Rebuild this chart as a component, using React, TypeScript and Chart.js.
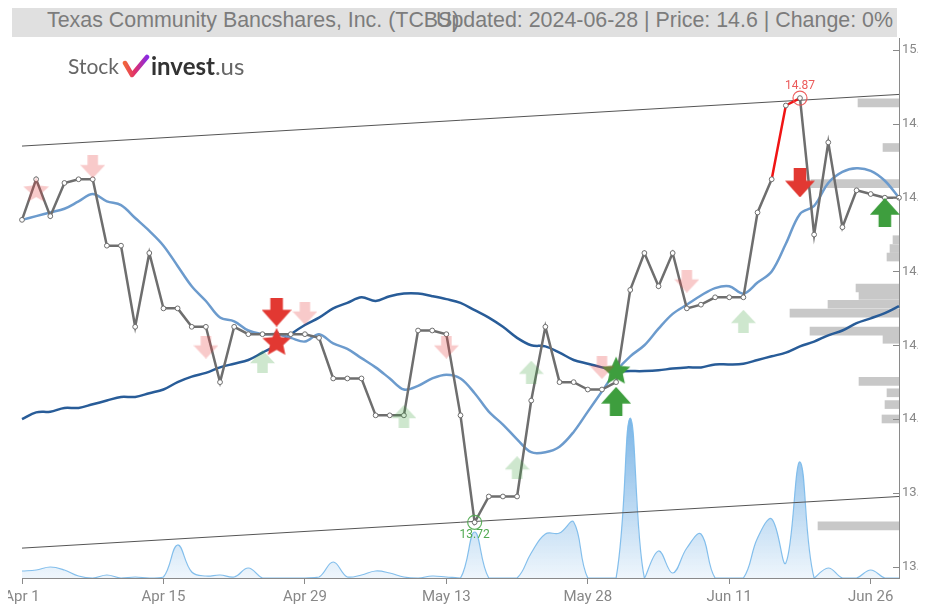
import React, { useEffect, useRef } from 'react';
import { Chart, registerables } from 'chart.js';

Chart.register(...registerables);

// ---------- data ----------
const dates = [
  'Apr 1', 'Apr 2', 'Apr 3', 'Apr 4', 'Apr 5', 'Apr 8', 'Apr 9', 'Apr 10', 'Apr 11', 'Apr 12',
  'Apr 15', 'Apr 16', 'Apr 17', 'Apr 18', 'Apr 19', 'Apr 22', 'Apr 23', 'Apr 24', 'Apr 25', 'Apr 26',
  'Apr 29', 'Apr 30', 'May 1', 'May 2', 'May 3', 'May 6', 'May 7', 'May 8', 'May 9', 'May 10',
  'May 13', 'May 14', 'May 15', 'May 16', 'May 17', 'May 20', 'May 21', 'May 22', 'May 23', 'May 24',
  'May 28', 'May 29', 'May 30', 'May 31', 'Jun 3', 'Jun 4', 'Jun 5', 'Jun 6', 'Jun 7', 'Jun 10',
  'Jun 11', 'Jun 12', 'Jun 13', 'Jun 14', 'Jun 17', 'Jun 18', 'Jun 20', 'Jun 21', 'Jun 24', 'Jun 25',
  'Jun 26', 'Jun 27', 'Jun 28',
];
const xTickLabels = ['Apr 1', 'Apr 15', 'Apr 29', 'May 13', 'May 28', 'Jun 11', 'Jun 26'];
const yTickValues = [13.6, 13.8, 14.0, 14.2, 14.4, 14.6, 14.8, 15.0];

const closePrice = [
  14.54, 14.65, 14.55, 14.64, 14.65, 14.65, 14.47, 14.47, 14.25, 14.45,
  14.30, 14.30, 14.25, 14.25, 14.10, 14.25, 14.23, 14.23, 14.23, 14.23,
  14.23, 14.22, 14.11, 14.11, 14.11, 14.01, 14.01, 14.01, 14.24, 14.24,
  14.23, 14.01, 13.72, 13.79, 13.79, 13.79, 14.05, 14.25, 14.10, 14.10,
  14.08, 14.08, 14.10, 14.35, 14.45, 14.36, 14.45, 14.30, 14.31, 14.33,
  14.33, 14.33, 14.56, 14.65, 14.85, 14.87, 14.50, 14.75, 14.52, 14.62,
  14.61, 14.60, 14.60,
];
const highlightSegments = [53, 54];

const maFast = [
  14.54, 14.55, 14.56, 14.57, 14.59, 14.61, 14.59, 14.58, 14.545, 14.51,
  14.47, 14.415, 14.36, 14.32, 14.275, 14.265, 14.24, 14.23, 14.23, 14.22,
  14.21, 14.23, 14.205, 14.19, 14.165, 14.14, 14.11, 14.08, 14.09, 14.11,
  14.12, 14.11, 14.07, 14.02, 13.985, 13.945, 13.91, 13.91, 13.925, 13.965,
  14.02, 14.075, 14.13, 14.17, 14.20, 14.245, 14.285, 14.31, 14.335, 14.355,
  14.36, 14.34, 14.37, 14.40, 14.475, 14.556, 14.578, 14.64, 14.67, 14.68,
  14.673, 14.646, 14.60,
];

const maSlow = [
  14.00, 14.018, 14.02, 14.03, 14.03, 14.04, 14.05, 14.06, 14.06, 14.07,
  14.08, 14.10, 14.115, 14.125, 14.14, 14.15, 14.16, 14.18, 14.20, 14.23,
  14.255, 14.275, 14.30, 14.315, 14.33, 14.32, 14.333, 14.34, 14.34, 14.333,
  14.325, 14.315, 14.295, 14.275, 14.25, 14.22, 14.20, 14.197, 14.18, 14.16,
  14.15, 14.14, 14.13, 14.13, 14.13, 14.132, 14.137, 14.14, 14.14, 14.148,
  14.148, 14.15, 14.16, 14.17, 14.18, 14.197, 14.21, 14.227, 14.24, 14.26,
  14.273, 14.287, 14.306,
];

const volume = [
  700, 800, 1100, 800, 200, 0, 300, 0, 100, 0,
  100, 3300, 600, 200, 300, 100, 1000, 0, 0, 0,
  0, 100, 1600, 100, 300, 700, 500, 100, 0, 200,
  100, 0, 4600, 0, 0, 0, 2500, 4400, 4500, 5600,
  0, 0, 0, 16000, 0, 2700, 500, 3000, 4400, 0,
  0, 0, 4000, 5900, 1500, 11600, 0, 1000, 0, 0,
  800, 0, 0,
];

const trendUpper = [14.74, 14.88];
const trendLower = [13.65, 13.79];

const profilePrice = [
  14.868, 14.747, 14.649, 14.497, 14.473, 14.450, 14.366, 14.346, 14.322, 14.298,
  14.249, 14.227, 14.113, 14.082, 14.050, 14.011, 13.721,
];
const profileVolume = [
  4100, 1600, 8800, 600, 900, 1200, 4300, 4000, 7100, 10900,
  8900, 1600, 4000, 1200, 1400, 1700, 8100,
];

const sellIdx = [18, 55];
const sellVal = [14.29, 14.64];
const buyIdx = [42, 61];
const buyVal = [14.048, 14.56];
const sellWeakIdx = [5, 13, 20, 30, 41, 47];
const sellWeakVal = [14.684, 14.195, 14.287, 14.195, 14.14, 14.374];
const buyWeakIdx = [17, 27, 35, 36, 51];
const buyWeakVal = [14.156, 14.007, 13.868, 14.127, 14.265];
const starSellIdx = [18];
const starSellVal = [14.21];
const starSellWeakIdx = [1];
const starSellWeakVal = [14.622];
const starBuyIdx = [42];
const starBuyVal = [14.132];
const extremeIdx = [55, 32];
const extremeVal = [14.87, 13.72];

// ---------- styles ----------
const RED = 'rgb(226,56,50)';
const RED_WEAK = 'rgba(230,60,60,0.27)';
const GREEN = 'rgb(62,158,62)';
const GREEN_WEAK = 'rgba(60,160,60,0.25)';

function makeArrow(w: number, h: number, color: string, up: boolean) {
  const c = document.createElement('canvas');
  c.width = w;
  c.height = h;
  const g = c.getContext('2d')!;
  g.fillStyle = color;
  const sw = w * 0.42;
  const sh = h * 0.42;
  const pts: [number, number][] = [
    [(w - sw) / 2, 0],
    [(w + sw) / 2, 0],
    [(w + sw) / 2, sh],
    [w, sh],
    [w / 2, h],
    [0, sh],
    [(w - sw) / 2, sh],
  ];
  g.beginPath();
  pts.forEach(([x, y], i) => {
    const yy = up ? h - y : y;
    if (i === 0) g.moveTo(x, yy);
    else g.lineTo(x, yy);
  });
  g.closePath();
  g.fill();
  return c;
}

function makeStar(size: number, color: string) {
  const c = document.createElement('canvas');
  c.width = size;
  c.height = size;
  const g = c.getContext('2d')!;
  g.fillStyle = color;
  const cx = size / 2;
  const cy = size / 2 + size * 0.04;
  const ro = size / 2;
  const ri = ro * 0.47;
  g.beginPath();
  for (let i = 0; i < 10; i++) {
    const r = i % 2 === 0 ? ro : ri;
    const a = -Math.PI / 2 + (i * Math.PI) / 5;
    const x = cx + r * Math.cos(a);
    const y = cy + r * Math.sin(a);
    if (i === 0) g.moveTo(x, y);
    else g.lineTo(x, y);
  }
  g.closePath();
  g.fill();
  return c;
}

const pts = (idx: number[], val: number[]) => idx.map((i, k) => ({ x: dates[i], y: val[k] }));

const overlayPlugin = {
  id: 'overlay',
  afterDatasetsDraw(chart: any) {
    const { ctx, chartArea, scales } = chart;
    const y = scales.y;
    const x = scales.x;
    ctx.save();
    ctx.strokeStyle = '#8a8a8a';
    ctx.lineWidth = 1;
    yTickValues.forEach((v) => {
      const py = Math.round(y.getPixelForValue(v)) + 0.5;
      ctx.beginPath();
      ctx.moveTo(chartArea.right - 6, py);
      ctx.lineTo(chartArea.right, py);
      ctx.stroke();
    });
    ctx.font = '12px Roboto';
    ctx.textAlign = 'center';
    ctx.textBaseline = 'middle';
    extremeIdx.forEach((i, k) => {
      const px = x.getPixelForValue(i);
      const py = y.getPixelForValue(extremeVal[k]);
      const isHigh = k === 0;
      ctx.fillStyle = isHigh ? 'rgb(235,90,90)' : 'rgb(80,170,80)';
      ctx.fillText(extremeVal[k].toFixed(2), px, isHigh ? py - 12 : py + 13);
    });
    ctx.restore();
  },
};

export default function App() {
  const canvasRef = useRef<HTMLCanvasElement | null>(null);

  useEffect(() => {
    document.body.style.marginBottom = '0px';
    const canvas = canvasRef.current!;
    const sellImg = makeArrow(30, 29, RED, false);
    const buyImg = makeArrow(30, 29, GREEN, true);
    const sellWeakImg = makeArrow(25, 23, RED_WEAK, false);
    const buyWeakImg = makeArrow(25, 23, GREEN_WEAK, true);
    const starSellImg = makeStar(30, RED);
    const starBuyImg = makeStar(30, GREEN);
    const starSellWeakImg = makeStar(27, RED_WEAK);

    const markerDs = (data: any[], img: HTMLCanvasElement) => ({
      type: 'line' as const,
      data,
      showLine: false,
      pointStyle: img,
      pointRadius: 10,
      xAxisID: 'x',
      yAxisID: 'y',
      order: 0,
    });

    const chart = new Chart(canvas, {
      type: 'line',
      data: {
        labels: dates,
        datasets: [
          markerDs(pts(starSellWeakIdx, starSellWeakVal), starSellWeakImg),
          markerDs(pts(sellWeakIdx, sellWeakVal), sellWeakImg),
          markerDs(pts(buyWeakIdx, buyWeakVal), buyWeakImg),
          markerDs(pts(starSellIdx, starSellVal), starSellImg),
          markerDs(pts(starBuyIdx, starBuyVal), starBuyImg),
          markerDs(pts(sellIdx, sellVal), sellImg),
          markerDs(pts(buyIdx, buyVal), buyImg),
          {
            type: 'line',
            data: [
              { x: dates[extremeIdx[0]], y: extremeVal[0] },
              { x: dates[extremeIdx[1]], y: extremeVal[1] },
            ],
            showLine: false,
            pointStyle: 'circle',
            pointRadius: 7,
            pointBorderWidth: 1.2,
            pointBackgroundColor: 'rgba(0,0,0,0)',
            pointBorderColor: ['rgba(235,80,80,0.9)', 'rgba(80,170,80,0.9)'],
            xAxisID: 'x',
            yAxisID: 'y',
            order: 0,
          },
          {
            type: 'line',
            data: closePrice,
            borderColor: '#6e6e6e',
            borderWidth: 2.5,
            pointRadius: 2.4,
            pointBorderWidth: 1,
            pointBackgroundColor: '#ffffff',
            pointBorderColor: '#6e6e6e',
            tension: 0,
            segment: {
              borderColor: (ctx: any) =>
                highlightSegments.includes(ctx.p0DataIndex) ? 'rgb(240,20,20)' : undefined,
            },
            xAxisID: 'x',
            yAxisID: 'y',
            order: 1,
          },
          {
            type: 'line',
            data: maFast,
            borderColor: 'rgb(108,155,205)',
            borderWidth: 2.5,
            pointRadius: 0,
            tension: 0.35,
            xAxisID: 'x',
            yAxisID: 'y',
            order: 2,
          },
          {
            type: 'line',
            data: maSlow,
            borderColor: 'rgb(40,92,152)',
            borderWidth: 2.5,
            pointRadius: 0,
            tension: 0.35,
            xAxisID: 'x',
            yAxisID: 'y',
            order: 2,
          },
          {
            type: 'line',
            data: [
              { x: dates[0], y: trendUpper[0] },
              { x: dates[dates.length - 1], y: trendUpper[1] },
            ],
            borderColor: '#555555',
            borderWidth: 1,
            pointRadius: 0,
            xAxisID: 'x',
            yAxisID: 'y',
            order: 3,
          },
          {
            type: 'line',
            data: [
              { x: dates[0], y: trendLower[0] },
              { x: dates[dates.length - 1], y: trendLower[1] },
            ],
            borderColor: '#555555',
            borderWidth: 1,
            pointRadius: 0,
            xAxisID: 'x',
            yAxisID: 'y',
            order: 3,
          },
          {
            type: 'bar',
            indexAxis: 'y',
            data: profilePrice.map((p, k) => ({ x: profileVolume[k], y: p })),
            backgroundColor: 'rgb(200,200,200)',
            barThickness: 8,
            xAxisID: 'xProfile',
            yAxisID: 'y',
            order: 4,
          } as any,
          {
            type: 'line',
            data: volume,
            borderColor: 'rgba(125,188,235,0.95)',
            borderWidth: 1.2,
            pointRadius: 0,
            tension: 0.4,
            fill: 'origin',
            backgroundColor: (ctx: any) => {
              const area = ctx.chart.chartArea;
              if (!area) return 'rgba(100,170,230,0.3)';
              const g = ctx.chart.ctx.createLinearGradient(0, area.bottom - 165, 0, area.bottom);
              g.addColorStop(0, 'rgba(95,165,225,0.85)');
              g.addColorStop(1, 'rgba(95,165,225,0.1)');
              return g;
            },
            xAxisID: 'x',
            yAxisID: 'yVol',
            order: 5,
          },
        ] as any,
      },
      options: {
        animation: false,
        responsive: false,
        events: [],
        layout: { padding: { left: 14, top: 30, right: 0, bottom: 0 } },
        plugins: { legend: { display: false }, tooltip: { enabled: false } },
        scales: {
          x: {
            type: 'category',
            offset: false,
            grid: { offset: false, drawOnChartArea: false, drawTicks: true, tickLength: 6, color: '#8a8a8a' },
            border: { display: true, color: '#8a8a8a' },
            ticks: {
              autoSkip: false,
              maxRotation: 0,
              padding: 4,
              color: '#888888',
              font: { family: 'Roboto', size: 15 },
              callback: (v: any) => {
                const lab = dates[v as number];
                return xTickLabels.includes(lab) ? lab : null;
              },
            },
            afterFit: (s: any) => {
              s.paddingLeft = 0;
              s.paddingRight = 0;
              s.height = 30;
            },
          },
          y: {
            type: 'linear',
            position: 'right',
            offset: false,
            min: 13.569,
            max: 15.033,
            grid: { display: false, drawTicks: false, offset: false },
            border: { display: true, color: '#8a8a8a' },
            ticks: {
              stepSize: 0.2,
              includeBounds: false,
              padding: 3,
              color: '#888888',
              font: { family: 'Roboto', size: 13 },
              callback: (v: any) => Number(v).toFixed(1),
            },
            afterFit: (s: any) => {
              s.width = 40;
              s.paddingTop = 0;
              s.paddingBottom = 0;
            },
          },
          yVol: {
            type: 'linear',
            display: false,
            offset: false,
            min: 0,
            max: 54000,
          },
          xProfile: {
            type: 'linear',
            axis: 'x',
            display: false,
            offset: false,
            reverse: true,
            min: 0,
            max: 87700,
          },
        },
      } as any,
      plugins: [overlayPlugin],
    });
    return () => chart.destroy();
  }, []);

  return (
    <div style={{ position: 'relative', width: 918, height: 602, overflow: 'hidden' }}>
      <canvas ref={canvasRef} width={931} height={600} style={{ display: 'block' }} />
      <div
        style={{
          position: 'absolute',
          left: 4,
          top: 0,
          width: 885,
          height: 29,
          background: '#e0e0e0',
          overflow: 'hidden',
        }}
      >
        <span
          style={{
            position: 'absolute',
            left: 35,
            top: 0,
            lineHeight: '29px',
            font: '21.4px "Liberation Sans", Arial, sans-serif',
            color: '#7c7c7c',
            whiteSpace: 'nowrap',
          }}
        >
          Texas Community Bancshares, Inc. (TCBS)
        </span>
        <span
          style={{
            position: 'absolute',
            right: 4,
            top: 0,
            lineHeight: '29px',
            font: '21.4px "Liberation Sans", Arial, sans-serif',
            color: '#7c7c7c',
            whiteSpace: 'nowrap',
          }}
        >
          Updated: 2024-06-28 | Price: 14.6 | Change: 0%
        </span>
      </div>
      <div
        style={{
          position: 'absolute',
          left: 60,
          top: 43,
          display: 'flex',
          alignItems: 'center',
          color: '#666666',
          whiteSpace: 'nowrap',
        }}
      >
        <span style={{ font: '21px Lato, sans-serif' }}>Stock</span>
        <svg width="28" height="24" viewBox="0 0 28 24" style={{ margin: '0 1px 0 3px' }}>
          <defs>
            <linearGradient id="lg" x1="0" y1="0" x2="1" y2="0">
              <stop offset="0" stopColor="#f0643c" />
              <stop offset="0.45" stopColor="#e0306a" />
              <stop offset="1" stopColor="#8a2be2" />
            </linearGradient>
          </defs>
          <polyline points="3,9 10,21 25,3" fill="none" stroke="url(#lg)" strokeWidth="4.5" strokeLinecap="round" strokeLinejoin="round" />
        </svg>
        <span style={{ font: 'bold 24px Lato, sans-serif', color: '#333333' }}>invest</span>
        <span style={{ font: '24px Lato, sans-serif' }}>.us</span>
      </div>
    </div>
  );
}
